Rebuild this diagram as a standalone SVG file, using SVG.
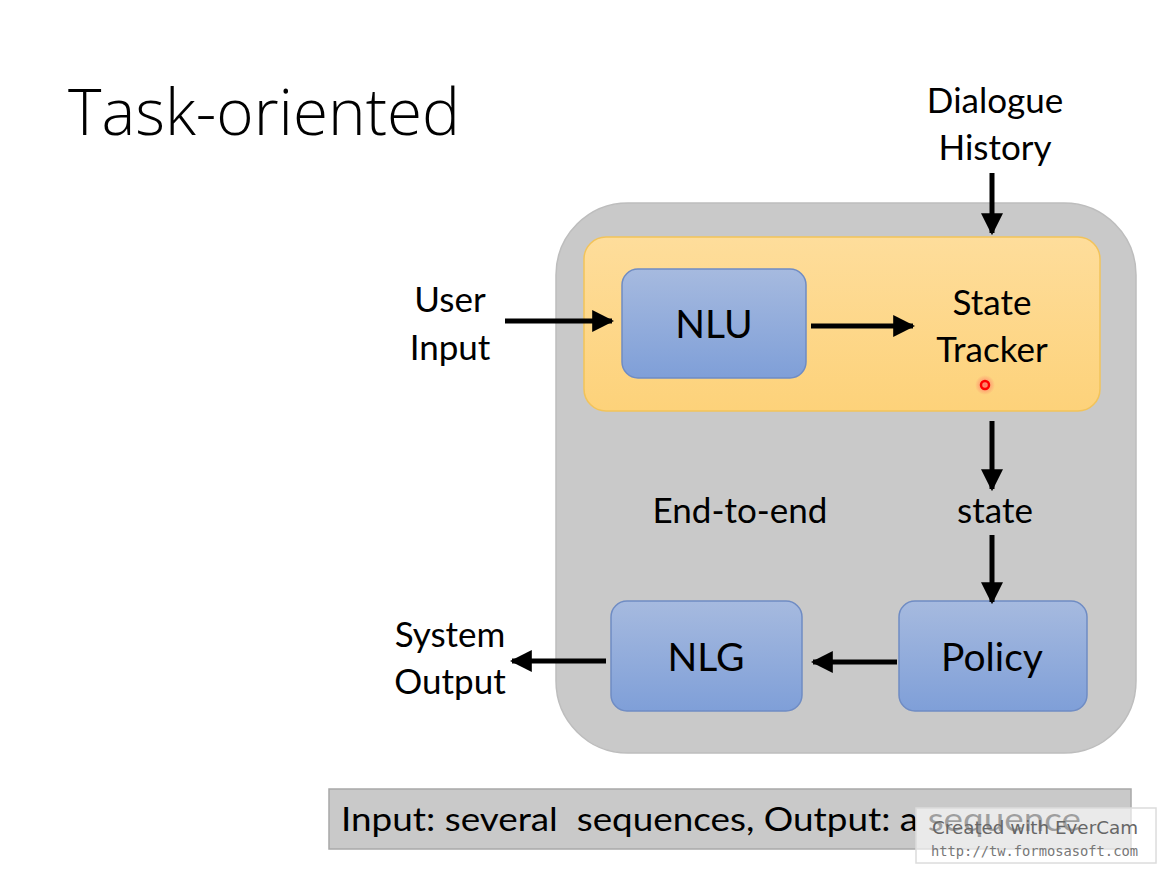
<svg xmlns="http://www.w3.org/2000/svg" width="1165" height="870" viewBox="0 0 1165 870">
<defs>
<linearGradient id="blue" x1="0" y1="0" x2="0" y2="1"><stop offset="0" stop-color="#a6badf"/><stop offset="1" stop-color="#7f9fd8"/></linearGradient>
<linearGradient id="orange" x1="0" y1="0" x2="0" y2="1"><stop offset="0" stop-color="#fedd9b"/><stop offset="1" stop-color="#fdd27a"/></linearGradient>
<radialGradient id="glow"><stop offset="0" stop-color="#ff6060" stop-opacity="0.8"/><stop offset="1" stop-color="#ff6060" stop-opacity="0"/></radialGradient>
<marker id="ah" viewBox="0 0 10 10" refX="9" refY="5" markerWidth="22" markerHeight="22" markerUnits="userSpaceOnUse" orient="auto"><path d="M0,0 L10,5 L0,10 Z" fill="#000"/></marker>
</defs>
<style>
.t{font-family:Lato,"Open Sans",sans-serif;fill:#000;text-anchor:middle}
.m{font-size:35px}
.b{font-size:39px}
.box{fill:url(#blue);stroke:#6f8cc4;stroke-width:1.5}
.c{stroke:#000;stroke-width:5;fill:none;marker-end:url(#ah)}
</style>
<rect width="1165" height="870" fill="#fff"/>
<text x="68" y="135" font-family="'Open Sans',Lato,sans-serif" font-weight="300" font-size="64" textLength="392" lengthAdjust="spacingAndGlyphs">Task-oriented</text>
<g id="endtoend">
<rect x="556" y="203" width="580" height="550" rx="72" fill="#c9c9c9" stroke="#bdbdbd" stroke-width="1.5"/>
<text class="t m" x="740" y="523">End-to-end</text>
</g>
<g id="tracker">
<rect x="584" y="237" width="516" height="174" rx="22" fill="url(#orange)" stroke="#f2c35a" stroke-width="1.5"/>
<text class="t m" x="992" y="315">State</text>
<text class="t m" x="992" y="362">Tracker</text>
</g>
<g id="nlu"><rect class="box" x="622" y="269" width="184" height="109" rx="16"/><text class="t b" x="714" y="338">NLU</text></g>
<g id="nlg"><rect class="box" x="611" y="601" width="191" height="110" rx="16"/><text class="t b" x="706" y="671">NLG</text></g>
<g id="policy"><rect class="box" x="899" y="601" width="188" height="110" rx="16"/><text class="t b" x="992" y="671">Policy</text></g>
<g id="userinput"><text class="t m" x="450" y="312">User</text><text class="t m" x="450" y="360">Input</text></g>
<g id="history"><text class="t m" x="995" y="113">Dialogue</text><text class="t m" x="995" y="160">History</text></g>
<g id="state"><text class="t m" x="995" y="523">state</text></g>
<g id="output"><text class="t m" x="450" y="647">System</text><text class="t m" x="450" y="694">Output</text></g>
<g id="connectors">
<line class="c" x1="505" y1="321" x2="612" y2="321"/>
<line class="c" x1="811" y1="326" x2="913" y2="326"/>
<line class="c" x1="992" y1="173" x2="992" y2="233"/>
<line class="c" x1="992" y1="421" x2="992" y2="489"/>
<line class="c" x1="992" y1="535" x2="992" y2="602"/>
<line class="c" x1="897" y1="662" x2="813" y2="662"/>
<line class="c" x1="606" y1="661" x2="512" y2="661"/>
</g>
<circle cx="985" cy="385" r="10" fill="url(#glow)"/>
<circle cx="985" cy="385" r="4" fill="none" stroke="#f00" stroke-width="2.5"/>
<g id="note">
<rect x="329" y="789" width="802" height="60" fill="#c9c9c9" stroke="#a8a8a8" stroke-width="1.5"/>
<text x="341" y="831" font-family="Lato,'Open Sans',sans-serif" font-size="32" textLength="740" lengthAdjust="spacingAndGlyphs" xml:space="preserve">Input: several  sequences, Output: a sequence</text>
</g>
<g id="watermark">
<rect x="916" y="808" width="240" height="55" fill="#fff" fill-opacity="0.62" stroke="#dcdcdc" stroke-width="1.5"/>
<text x="932" y="834" font-family="'DejaVu Sans',sans-serif" font-size="17" fill="#666" textLength="206" lengthAdjust="spacingAndGlyphs">Created with EverCam</text>
<text x="931" y="856" font-family="'DejaVu Sans Mono',monospace" font-size="13.5" fill="#777" textLength="207" lengthAdjust="spacingAndGlyphs">http://tw.formosasoft.com</text>
</g>
</svg>
